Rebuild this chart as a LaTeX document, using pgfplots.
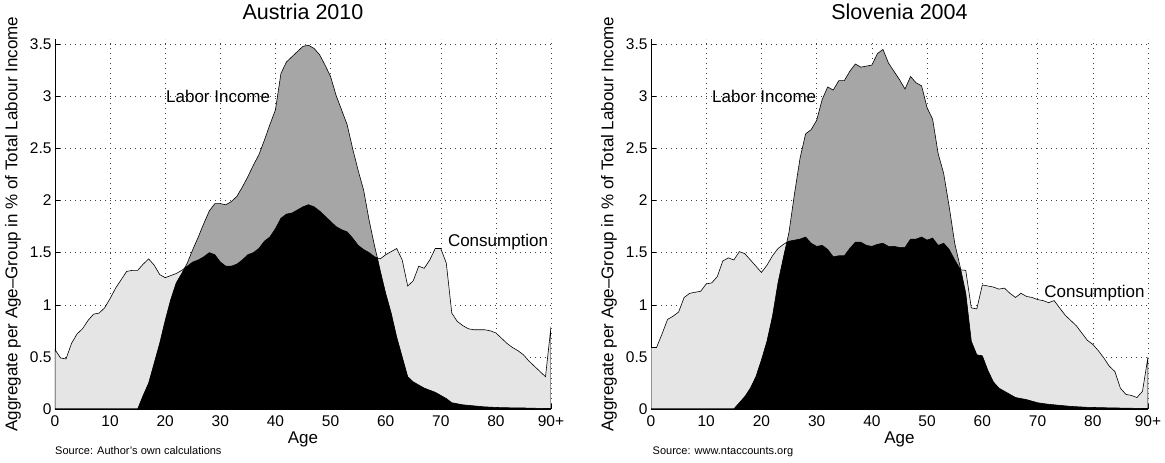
\documentclass[border=0pt]{standalone}
\usepackage{pgfplots}
\pgfplotsset{compat=1.18}
\usepackage{pgfplotstable}
\usepackage{fontspec}
\setmainfont{Liberation Sans}
\definecolor{lightg}{RGB}{229,229,229}
\definecolor{darkg}{RGB}{166,166,166}

\pgfplotstableread{
age C L
0 0.57 0
1 0.49 0
2 0.48 0
3 0.63 0
4 0.72 0
5 0.77 0
6 0.85 0
7 0.91 0
8 0.92 0
9 0.97 0
10 1.06 0
11 1.16 0
12 1.24 0
13 1.32 0
14 1.33 0
15 1.33 0
16 1.39 0.13
17 1.44 0.25
18 1.38 0.44
19 1.29 0.63
20 1.26 0.85
21 1.28 1.05
22 1.30 1.21
23 1.33 1.30
23.5 1.35 1.35
24 1.37 1.40
25 1.41 1.53
26 1.43 1.65
27 1.46 1.78
28 1.50 1.90
29 1.48 1.97
30 1.41 1.97
31 1.37 1.96
32 1.37 1.99
33 1.39 2.04
34 1.43 2.13
35 1.48 2.23
36 1.50 2.34
37 1.54 2.44
38 1.61 2.58
39 1.65 2.73
40 1.73 2.87
41 1.83 3.22
42 1.87 3.33
43 1.88 3.38
44 1.91 3.43
45 1.94 3.48
46 1.96 3.49
47 1.94 3.46
48 1.90 3.40
49 1.85 3.30
50 1.80 3.19
51 1.75 3.01
52 1.72 2.87
53 1.70 2.73
54 1.64 2.50
55 1.57 2.29
56 1.53 2.10
57 1.50 1.81
58 1.46 1.56
58.5 1.45 1.45
59 1.44 1.33
60 1.48 1.11
61 1.51 0.92
62 1.54 0.69
63 1.43 0.50
64 1.18 0.31
65 1.23 0.26
66 1.37 0.23
67 1.35 0.20
68 1.43 0.18
69 1.54 0.16
70 1.54 0.13
71 1.40 0.10
72 0.92 0.06
73 0.84 0.05
74 0.80 0.04
75 0.77 0.035
76 0.76 0.03
77 0.76 0.025
78 0.76 0.02
79 0.75 0.018
80 0.73 0.015
81 0.68 0.013
82 0.63 0.012
83 0.59 0.011
84 0.56 0.01
85 0.52 0.01
86 0.46 0.008
87 0.41 0.007
88 0.36 0.006
89 0.31 0.005
90 0.79 0.005
}\austria

\pgfplotstableread{
age C L
0 0.59 0
1 0.59 0
2 0.72 0
3 0.86 0
4 0.89 0
5 0.93 0
6 1.07 0
7 1.11 0
8 1.12 0
9 1.13 0
10 1.20 0
11 1.21 0
12 1.27 0
13 1.42 0
14 1.45 0
15 1.43 0
16 1.51 0.06
17 1.49 0.12
18 1.43 0.20
19 1.37 0.31
20 1.31 0.47
21 1.38 0.65
22 1.47 0.89
23 1.54 1.21
24 1.58 1.46
24.6 1.60 1.60
25 1.61 1.70
26 1.62 2.07
27 1.63 2.41
28 1.65 2.64
29 1.59 2.68
30 1.56 2.77
31 1.57 2.97
32 1.53 3.09
33 1.46 3.06
34 1.47 3.15
35 1.47 3.15
36 1.54 3.24
37 1.60 3.31
38 1.60 3.28
39 1.57 3.29
40 1.56 3.30
41 1.58 3.41
42 1.59 3.45
43 1.56 3.32
44 1.56 3.24
45 1.55 3.16
46 1.55 3.07
47 1.63 3.19
48 1.63 3.13
49 1.65 3.10
50 1.62 2.89
51 1.64 2.78
52 1.57 2.45
53 1.59 2.26
54 1.53 1.94
55 1.43 1.59
56 1.34 1.36
56.1 1.335 1.335
57 1.33 1.11
58 0.97 0.65
59 0.96 0.52
60 1.19 0.51
61 1.18 0.37
62 1.17 0.26
63 1.15 0.20
64 1.16 0.17
65 1.11 0.14
66 1.07 0.11
67 1.11 0.10
68 1.08 0.09
69 1.07 0.075
70 1.05 0.06
71 1.04 0.052
72 1.02 0.045
73 1.04 0.04
74 0.97 0.035
75 0.90 0.03
76 0.85 0.025
77 0.80 0.022
78 0.73 0.019
79 0.66 0.016
80 0.62 0.015
81 0.56 0.013
82 0.49 0.012
83 0.41 0.011
84 0.36 0.01
85 0.20 0.009
86 0.14 0.008
87 0.13 0.007
88 0.11 0.006
89 0.17 0.005
90 0.50 0.005
}\slovenia

\pgfplotsset{
  panel/.style={
    scale only axis, height=370pt,
    xmin=0, xmax=90, ymin=0, ymax=3.55,
    axis x line*=bottom, axis y line*=left,
    axis line style={-, black, line width=0.6pt},
    xtick={0,10,...,90}, xticklabels={0,10,20,30,40,50,60,70,80,90+},
    ytick={0,0.5,1,1.5,2,2.5,3,3.5}, yticklabels={0,0.5,1,1.5,2,2.5,3,3.5},
    grid=major,
    major grid style={black!75, line width=0.5pt, dash pattern=on 0.7pt off 4.3pt},
    tick align=inside, major tick length=5pt,
    tick style={black, line width=0.5pt},
    ticklabel style={font=\fontsize{15.5}{17}\selectfont},
    xticklabel style={yshift=-3pt},
    label style={font=\fontsize{17}{19}\selectfont},
    title style={font=\fontsize{21.5}{24}\selectfont, at={(axis description cs:0.5,1)}, anchor=base, yshift=13pt},
    xlabel style={at={(axis description cs:0.5,0)}, anchor=base, yshift=-35pt},
    ylabel style={at={(axis description cs:-0.0847,0.5)}, anchor=center},
    xlabel={Age},
    ylabel={Aggregate per Age--Group in \% of Total Labour Income},
    every axis plot/.append style={mark=none},
  },
}

\begin{document}
\begin{tikzpicture}
\path[use as bounding box] (0,0) rectangle (1165pt,463pt);

\begin{axis}[panel, name=A, width=496pt, at={(55pt,54pt)}, anchor=south west, title={Austria 2010}]
\addplot[fill=lightg, draw=none] table[x=age, y=C]{\austria} \closedcycle;
\addplot[fill=darkg, draw=none] table[x=age, y=L]{\austria} \closedcycle;
\addplot[fill=black, draw=none] table[x=age, y expr={min(\thisrow{C},\thisrow{L})}]{\austria} \closedcycle;
\addplot[draw=black, line width=0.6pt, fill=none] table[x=age, y=C]{\austria} \closedcycle;
\addplot[draw=black, line width=0.6pt] table[x=age, y=L]{\austria};
\node[font=\fontsize{17}{19}\selectfont] at (axis cs:29.6,3.0) {Labor Income};
\node[font=\fontsize{17}{19}\selectfont] at (axis cs:80.4,1.60) {Consumption};
\end{axis}

\begin{axis}[panel, name=B, width=497pt, at={(651pt,54pt)}, anchor=south west, title={Slovenia 2004}]
\addplot[fill=lightg, draw=none] table[x=age, y=C]{\slovenia} \closedcycle;
\addplot[fill=darkg, draw=none] table[x=age, y=L]{\slovenia} \closedcycle;
\addplot[fill=black, draw=none] table[x=age, y expr={min(\thisrow{C},\thisrow{L})}]{\slovenia} \closedcycle;
\addplot[draw=black, line width=0.6pt, fill=none] table[x=age, y=C]{\slovenia} \closedcycle;
\addplot[draw=black, line width=0.6pt] table[x=age, y=L]{\slovenia};
\node[font=\fontsize{17}{19}\selectfont] at (axis cs:20.5,3.0) {Labor Income};
\node[font=\fontsize{17}{19}\selectfont] at (axis cs:80.3,1.115) {Consumption};
\end{axis}

\node[anchor=base west, inner sep=0pt, font=\fontsize{11}{13}\selectfont] at (55pt,8pt) {Source: Author's own calculations};
\node[anchor=base west, inner sep=0pt, font=\fontsize{11}{13}\selectfont] at (652.5pt,8pt) {Source: www.ntaccounts.org};
\end{tikzpicture}
\end{document}
